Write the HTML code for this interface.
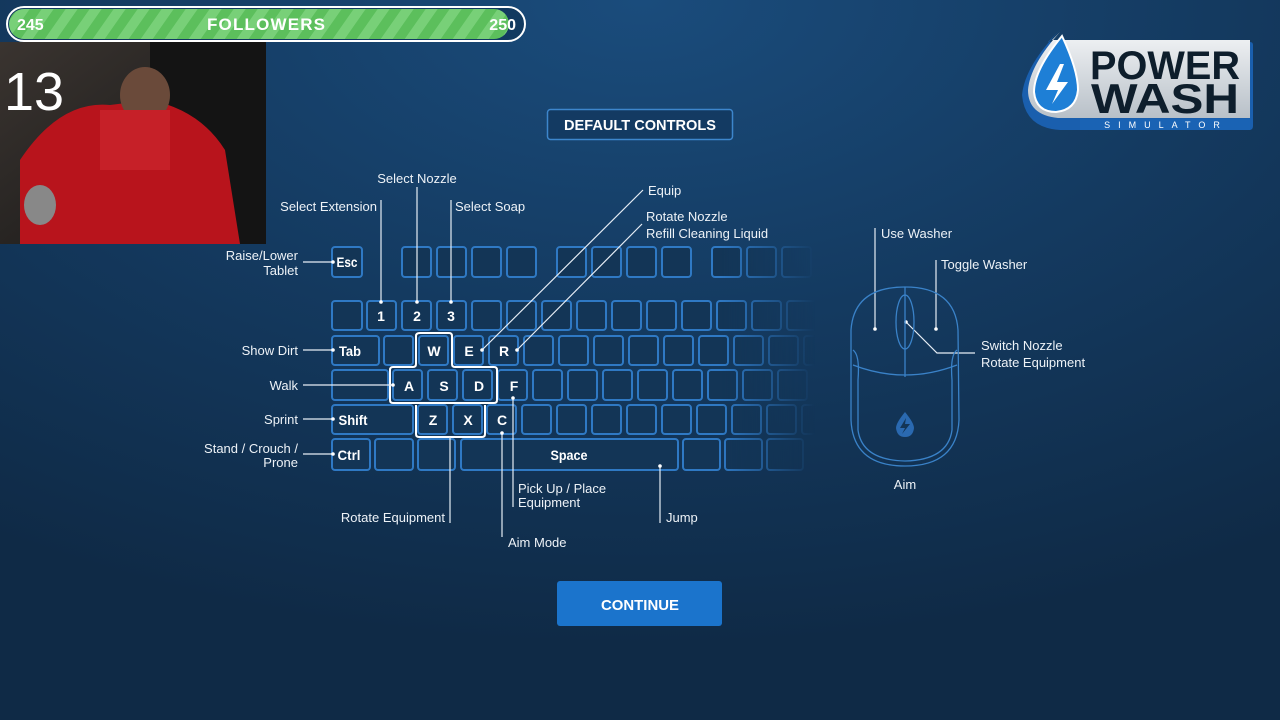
<!DOCTYPE html>
<html><head><meta charset="utf-8"><style>
html,body{margin:0;padding:0;width:1280px;height:720px;overflow:hidden;background:#112d4c;}
svg{display:block;font-family:"Liberation Sans",sans-serif;}
</style></head><body>
<svg width="1280" height="720" viewBox="0 0 1280 720" xmlns="http://www.w3.org/2000/svg">
<defs>
<radialGradient id="bg" cx="0.5" cy="0" r="0.9">
<stop offset="0" stop-color="#1a4c7c"/><stop offset="0.5" stop-color="#143a60"/><stop offset="1" stop-color="#0f2a46"/>
</radialGradient>
<linearGradient id="fade" x1="720" y1="0" x2="815" y2="0" gradientUnits="userSpaceOnUse">
<stop offset="0" stop-color="#fff"/><stop offset="1" stop-color="#000"/></linearGradient>
<mask id="m"><rect x="0" y="0" width="1280" height="720" fill="url(#fade)"/></mask>
<pattern id="stripe" width="24" height="40" patternUnits="userSpaceOnUse" patternTransform="skewX(-35)">
<rect width="24" height="40" fill="#5cbf5c"/><rect width="12" height="40" fill="#78d078"/></pattern>
<linearGradient id="cam" x1="0" y1="0" x2="1" y2="1"><stop offset="0" stop-color="#3a3430"/><stop offset="1" stop-color="#151515"/></linearGradient>
<linearGradient id="silver" x1="0" y1="0" x2="0" y2="1"><stop offset="0" stop-color="#f2f4f6"/><stop offset="1" stop-color="#b8c0c8"/></linearGradient>
</defs>
<rect width="1280" height="720" fill="url(#bg)"/>

<!-- webcam -->
<rect x="0" y="42" width="266" height="202" fill="url(#cam)"/>
<rect x="150" y="42" width="116" height="202" fill="#141414"/>
<path d="M20,160 Q60,100 110,105 L150,100 Q200,110 225,150 L240,244 L20,244 Z" fill="#b8141c"/>
<ellipse cx="145" cy="95" rx="25" ry="28" fill="#6a4a3a"/>
<rect x="100" y="110" width="70" height="60" fill="#c62028"/>
<ellipse cx="40" cy="205" rx="16" ry="20" fill="#888"/>
<text x="4" y="110" font-size="54" fill="#fff">13</text>

<!-- followers bar -->
<rect x="7" y="7" width="518" height="34" rx="17" fill="#123a60" stroke="#fff" stroke-width="2"/>
<rect x="9" y="9" width="500" height="30" rx="15" fill="url(#stripe)"/>
<text x="17" y="30" font-size="16" font-weight="bold" fill="#fff">245</text>
<text x="266" y="30" font-size="17" font-weight="bold" fill="#fff" text-anchor="middle" textLength="118">FOLLOWERS</text>
<text x="516" y="30" font-size="16" font-weight="bold" fill="#fff" text-anchor="end">250</text>

<!-- logo -->
<path d="M1048,42 L1250,42 Q1253,42 1253,45 L1253,126 Q1253,130 1249,130 L1060,130 Q1025,128 1022,95 Q1025,65 1062,28 Z" fill="#1a5fae"/>
<path d="M1052,40 L1250,40 L1250,118 L1058,118 Q1028,115 1028,90 Q1030,65 1060,32 Z" fill="url(#silver)"/>
<path d="M1062,36 Q1034,70 1034,92 Q1036,112 1056,112 Q1076,110 1078,90 Q1078,70 1062,36 Z" fill="#1e7fd6" stroke="#fff" stroke-width="2"/>
<path d="M1060,64 L1046,90 L1058,90 L1052,104 L1068,82 L1057,82 L1064,64 Z" fill="#fff"/>
<text x="1165" y="79" font-size="40" font-weight="bold" fill="#0e1e2c" text-anchor="middle" textLength="150" lengthAdjust="spacingAndGlyphs">POWER</text>
<text x="1165" y="113" font-size="42" font-weight="bold" fill="#0e1e2c" text-anchor="middle" textLength="148" lengthAdjust="spacingAndGlyphs">WASH</text>
<rect x="1080" y="119" width="170" height="11" fill="#1a63b4"/>
<text x="1166" y="128" font-size="9" fill="#fff" text-anchor="middle" letter-spacing="8">SIMULATOR</text>

<!-- title -->
<rect x="547.5" y="109.5" width="185" height="30" rx="3" fill="#133a62" stroke="#3d86cc" stroke-width="1.5"/>
<text x="640" y="130" font-size="15" font-weight="bold" fill="#fff" text-anchor="middle" textLength="152" lengthAdjust="spacingAndGlyphs">DEFAULT CONTROLS</text>

<!-- keyboard -->
<g mask="url(#m)" fill="#133556" stroke="#2f79c4" stroke-width="2">
<rect x="332" y="247" width="30" height="30" rx="3"/>
<rect x="402" y="247" width="29" height="30" rx="3"/><rect x="437" y="247" width="29" height="30" rx="3"/><rect x="472" y="247" width="29" height="30" rx="3"/><rect x="507" y="247" width="29" height="30" rx="3"/>
<rect x="557" y="247" width="29" height="30" rx="3"/><rect x="592" y="247" width="29" height="30" rx="3"/><rect x="627" y="247" width="29" height="30" rx="3"/><rect x="662" y="247" width="29" height="30" rx="3"/>
<rect x="712" y="247" width="29" height="30" rx="3"/><rect x="747" y="247" width="29" height="30" rx="3"/><rect x="782" y="247" width="29" height="30" rx="3"/>
<rect x="332" y="301" width="30" height="29" rx="3"/>
<rect x="367" y="301" width="29" height="29" rx="3"/><rect x="402" y="301" width="29" height="29" rx="3"/><rect x="437" y="301" width="29" height="29" rx="3"/><rect x="472" y="301" width="29" height="29" rx="3"/><rect x="507" y="301" width="29" height="29" rx="3"/><rect x="542" y="301" width="29" height="29" rx="3"/><rect x="577" y="301" width="29" height="29" rx="3"/><rect x="612" y="301" width="29" height="29" rx="3"/><rect x="647" y="301" width="29" height="29" rx="3"/><rect x="682" y="301" width="29" height="29" rx="3"/><rect x="717" y="301" width="29" height="29" rx="3"/><rect x="752" y="301" width="29" height="29" rx="3"/><rect x="787" y="301" width="29" height="29" rx="3"/>
<rect x="332" y="336" width="47" height="29" rx="3"/>
<rect x="384" y="336" width="29" height="29" rx="3"/><rect x="419" y="336" width="29" height="29" rx="3"/><rect x="454" y="336" width="29" height="29" rx="3"/><rect x="489" y="336" width="29" height="29" rx="3"/><rect x="524" y="336" width="29" height="29" rx="3"/><rect x="559" y="336" width="29" height="29" rx="3"/><rect x="594" y="336" width="29" height="29" rx="3"/><rect x="629" y="336" width="29" height="29" rx="3"/><rect x="664" y="336" width="29" height="29" rx="3"/><rect x="699" y="336" width="29" height="29" rx="3"/><rect x="734" y="336" width="29" height="29" rx="3"/><rect x="769" y="336" width="29" height="29" rx="3"/><rect x="804" y="336" width="29" height="29" rx="3"/>
<rect x="332" y="370" width="56" height="30" rx="3"/>
<rect x="393" y="370" width="29" height="30" rx="3"/><rect x="428" y="370" width="29" height="30" rx="3"/><rect x="463" y="370" width="29" height="30" rx="3"/><rect x="498" y="370" width="29" height="30" rx="3"/><rect x="533" y="370" width="29" height="30" rx="3"/><rect x="568" y="370" width="29" height="30" rx="3"/><rect x="603" y="370" width="29" height="30" rx="3"/><rect x="638" y="370" width="29" height="30" rx="3"/><rect x="673" y="370" width="29" height="30" rx="3"/><rect x="708" y="370" width="29" height="30" rx="3"/><rect x="743" y="370" width="29" height="30" rx="3"/><rect x="778" y="370" width="29" height="30" rx="3"/>
<rect x="332" y="405" width="81" height="29" rx="3"/>
<rect x="418" y="405" width="29" height="29" rx="3"/><rect x="453" y="405" width="29" height="29" rx="3"/><rect x="487" y="405" width="29" height="29" rx="3"/><rect x="522" y="405" width="29" height="29" rx="3"/><rect x="557" y="405" width="29" height="29" rx="3"/><rect x="592" y="405" width="29" height="29" rx="3"/><rect x="627" y="405" width="29" height="29" rx="3"/><rect x="662" y="405" width="29" height="29" rx="3"/><rect x="697" y="405" width="29" height="29" rx="3"/><rect x="732" y="405" width="29" height="29" rx="3"/><rect x="767" y="405" width="29" height="29" rx="3"/><rect x="802" y="405" width="29" height="29" rx="3"/>
<rect x="332" y="439" width="38" height="31" rx="3"/><rect x="375" y="439" width="38" height="31" rx="3"/><rect x="418" y="439" width="37" height="31" rx="3"/><rect x="461" y="439" width="217" height="31" rx="3"/><rect x="683" y="439" width="37" height="31" rx="3"/><rect x="725" y="439" width="37" height="31" rx="3"/><rect x="767" y="439" width="36" height="31" rx="3"/>
</g>
<g fill="none" stroke="#fff" stroke-width="2" stroke-linejoin="round">
<path d="M420,333 L449,333 Q452,333 452,336 L452,364 Q452,367 455,367 L494,367 Q497,367 497,370 L497,400 Q497,403 494,403 L393,403 Q390,403 390,400 L390,370 Q390,367 393,367 L413,367 Q416,367 416,364 L416,336 Q416,333 420,333 Z"/>
<path d="M416,405 L416,434 Q416,437 419,437 L482,437 Q485,437 485,434 L485,405"/>
</g>
<g font-size="14" font-weight="bold" fill="#fff" text-anchor="middle">
<text x="347" y="267" textLength="21" lengthAdjust="spacingAndGlyphs">Esc</text>
<text x="381" y="321">1</text><text x="417" y="321">2</text><text x="451" y="321">3</text>
<text x="350" y="356" textLength="22" lengthAdjust="spacingAndGlyphs">Tab</text><text x="434" y="356">W</text><text x="469" y="356">E</text><text x="504" y="356">R</text>
<text x="409" y="391">A</text><text x="444" y="391">S</text><text x="479" y="391">D</text><text x="514" y="391">F</text>
<text x="353" y="425" textLength="29" lengthAdjust="spacingAndGlyphs">Shift</text><text x="433" y="425">Z</text><text x="468" y="425">X</text><text x="502" y="425">C</text>
<text x="349" y="460" textLength="23" lengthAdjust="spacingAndGlyphs">Ctrl</text><text x="569" y="460" textLength="37" lengthAdjust="spacingAndGlyphs">Space</text>
</g>

<!-- connectors -->
<g stroke="#e6edf5" stroke-width="1.2" fill="none">
<line x1="381" y1="200" x2="381" y2="302"/>
<line x1="417" y1="187" x2="417" y2="302"/>
<line x1="451" y1="200" x2="451" y2="302"/>
<line x1="643" y1="190" x2="482" y2="350"/>
<line x1="642" y1="224" x2="517" y2="350"/>
<line x1="303" y1="262" x2="333" y2="262"/>
<line x1="303" y1="350" x2="333" y2="350"/>
<line x1="303" y1="385" x2="393" y2="385"/>
<line x1="303" y1="419" x2="333" y2="419"/>
<line x1="303" y1="454" x2="333" y2="454"/>
<line x1="450" y1="437" x2="450" y2="523"/>
<line x1="502" y1="433" x2="502" y2="537"/>
<line x1="513" y1="398" x2="513" y2="507"/>
<line x1="660" y1="466" x2="660" y2="523"/>
<line x1="875" y1="228" x2="875" y2="329"/>
<line x1="936" y1="260" x2="936" y2="329"/>
<polyline points="906,322 937,353 975,353"/>
</g>
<g fill="#fff">
<circle cx="381" cy="302" r="1.8"/><circle cx="417" cy="302" r="1.8"/><circle cx="451" cy="302" r="1.8"/>
<circle cx="482" cy="350" r="1.8"/><circle cx="517" cy="350" r="1.8"/>
<circle cx="333" cy="262" r="1.8"/><circle cx="333" cy="350" r="1.8"/><circle cx="393" cy="385" r="1.8"/><circle cx="333" cy="419" r="1.8"/><circle cx="333" cy="454" r="1.8"/>
<circle cx="502" cy="433" r="1.8"/><circle cx="513" cy="398" r="1.8"/><circle cx="660" cy="466" r="1.8"/>
<circle cx="875" cy="329" r="1.8"/><circle cx="936" cy="329" r="1.8"/><circle cx="906" cy="322" r="1.8"/>
</g>

<!-- labels -->
<g font-size="13" fill="#edf2f7">
<text x="377" y="211" text-anchor="end">Select Extension</text>
<text x="417" y="183" text-anchor="middle">Select Nozzle</text>
<text x="455" y="211">Select Soap</text>
<text x="648" y="195">Equip</text>
<text x="646" y="221">Rotate Nozzle</text>
<text x="646" y="238">Refill Cleaning Liquid</text>
<text x="298" y="260" text-anchor="end">Raise/Lower</text>
<text x="298" y="275" text-anchor="end">Tablet</text>
<text x="298" y="355" text-anchor="end">Show Dirt</text>
<text x="298" y="390" text-anchor="end">Walk</text>
<text x="298" y="424" text-anchor="end">Sprint</text>
<text x="298" y="453" text-anchor="end">Stand / Crouch /</text>
<text x="298" y="467" text-anchor="end">Prone</text>
<text x="445" y="522" text-anchor="end">Rotate Equipment</text>
<text x="508" y="547">Aim Mode</text>
<text x="518" y="493">Pick Up / Place</text>
<text x="518" y="507">Equipment</text>
<text x="666" y="522">Jump</text>
<text x="881" y="238">Use Washer</text>
<text x="941" y="269">Toggle Washer</text>
<text x="981" y="350">Switch Nozzle</text>
<text x="981" y="367">Rotate Equipment</text>
<text x="905" y="489" text-anchor="middle">Aim</text>
</g>

<!-- mouse -->
<g fill="none" stroke="#3a82c8" stroke-width="1.3">
<path d="M905,287 Q955,287 958,330 L959,420 Q957,466 905,466 Q853,466 851,420 L851,330 Q854,287 905,287 Z"/>
<path d="M905,287 L905,377"/>
<ellipse cx="905" cy="322" rx="9" ry="27"/>
<path d="M853,365 Q905,385 957,365"/>
<path d="M853,350 Q860,355 858,380 L858,430 Q862,460 905,461 Q948,460 952,430 L952,380 Q950,355 957,350"/>
</g>
<path d="M905,412 Q896,423 896,428 Q897,437 905,437 Q913,437 914,428 Q914,423 905,412 Z" fill="#2a69b0"/>
<path d="M906,418 L900,428 L905,428 L902,434 L910,424 L905,424 Z" fill="#133556"/>

<!-- continue -->
<rect x="557" y="581" width="165" height="45" rx="3" fill="#1b74cc"/>
<text x="640" y="610" font-size="15" font-weight="bold" fill="#fff" text-anchor="middle" textLength="78" lengthAdjust="spacingAndGlyphs">CONTINUE</text>
</svg>
</body></html>
